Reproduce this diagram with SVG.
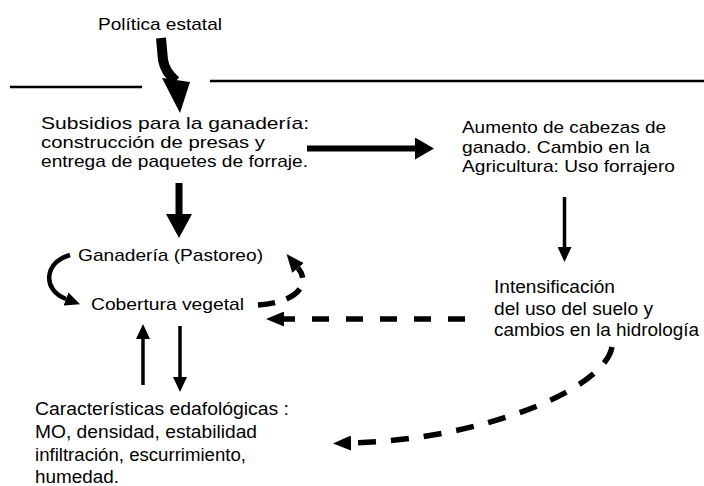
<svg xmlns="http://www.w3.org/2000/svg" width="704" height="486" viewBox="0 0 704 486">
<style>
.t{font-family:"Liberation Sans",Arial,sans-serif;font-size:17px;fill:#000}
.big{font-size:17.5px}
.rule{stroke:#000;stroke-width:2.5;fill:none}
.solid{stroke:#000;fill:none}
.dash{stroke:#000;fill:none;stroke-width:5.5}
</style>
<defs>
<marker id="hThin" markerUnits="userSpaceOnUse" markerWidth="15" markerHeight="14" refX="0" refY="7" orient="auto"><path d="M0,0L15,7L0,14z"/></marker>
<marker id="hDash" markerUnits="userSpaceOnUse" markerWidth="18" markerHeight="15" refX="0" refY="7.5" orient="auto"><path d="M0,0L18,7.5L0,15z"/></marker>
<marker id="hMed" markerUnits="userSpaceOnUse" markerWidth="19" markerHeight="22" refX="0" refY="11" orient="auto"><path d="M0,0L19,11L0,22z"/></marker>
<marker id="hBig" markerUnits="userSpaceOnUse" markerWidth="24" markerHeight="26" refX="0" refY="13" orient="auto"><path d="M0,0L24,13L0,26z"/></marker>
</defs>
<rect width="704" height="486" fill="#fff"/>
<g id="rules">
<line class="rule" x1="10" y1="87" x2="142" y2="87"/>
<line class="rule" x1="210" y1="81" x2="704" y2="81"/>
</g>
<g id="connectors">
<path class="solid" stroke-width="10" d="M161,38L163,60Q165,72 176,81"/>
<polygon points="162,78 190,82 180,113"/>
<line class="solid" stroke-width="6" x1="307" y1="148.5" x2="415" y2="148.5" marker-end="url(#hMed)"/>
<line class="solid" stroke-width="7" x1="179" y1="183" x2="179" y2="214" marker-end="url(#hBig)"/>
<line class="solid" stroke-width="3.5" x1="564.5" y1="197" x2="564.5" y2="247" marker-end="url(#hThin)"/>
<line class="dash" stroke-dasharray="17 17" x1="465" y1="319" x2="284" y2="319" marker-end="url(#hDash)"/>
<path class="dash" stroke-width="5" stroke-dasharray="17 12" d="M258,305C295,303 312,285 298,268" marker-end="url(#hDash)"/>
<path class="solid" stroke-width="4.5" d="M70,255C44,262 42,290 66,299" marker-end="url(#hThin)"/>
<line class="solid" stroke-width="3.5" x1="143" y1="385" x2="143" y2="339" marker-end="url(#hThin)"/>
<line class="solid" stroke-width="3.5" x1="180" y1="326" x2="180" y2="377" marker-end="url(#hThin)"/>
<path class="dash" stroke-dasharray="18 15" d="M612,347C604,390 480,440 351,443" marker-end="url(#hDash)"/>
</g>
<g id="politica"><text class="t" x="98" y="30" textLength="124" lengthAdjust="spacingAndGlyphs">Política estatal</text></g>
<g id="subsidios">
<text class="t" x="41" y="129" textLength="268" lengthAdjust="spacingAndGlyphs">Subsidios para la ganadería:</text>
<text class="t" x="41" y="148" textLength="224" lengthAdjust="spacingAndGlyphs">construcción de presas y</text>
<text class="t" x="41" y="167" textLength="267" lengthAdjust="spacingAndGlyphs">entrega de paquetes de forraje.</text>
</g>
<g id="aumento">
<text class="t" x="462" y="133" textLength="204" lengthAdjust="spacingAndGlyphs">Aumento de cabezas de</text>
<text class="t" x="462" y="152.5" textLength="188" lengthAdjust="spacingAndGlyphs">ganado. Cambio en la</text>
<text class="t" x="462" y="172" textLength="213" lengthAdjust="spacingAndGlyphs">Agricultura: Uso forrajero</text>
</g>
<g id="intensificacion">
<text class="t big" x="494" y="293" textLength="121" lengthAdjust="spacingAndGlyphs">Intensificación</text>
<text class="t big" x="494" y="314.5" textLength="159" lengthAdjust="spacingAndGlyphs">del uso del suelo y</text>
<text class="t big" x="494" y="336" textLength="205" lengthAdjust="spacingAndGlyphs">cambios en la hidrología</text>
</g>
<g id="ganaderia"><text class="t" x="78" y="261" textLength="185" lengthAdjust="spacingAndGlyphs">Ganadería (Pastoreo)</text></g>
<g id="cobertura"><text class="t" x="91" y="310" textLength="153" lengthAdjust="spacingAndGlyphs">Cobertura vegetal</text></g>
<g id="caracteristicas">
<text class="t big" x="35" y="415" textLength="254" lengthAdjust="spacingAndGlyphs">Características edafológicas :</text>
<text class="t big" x="35" y="438" textLength="222" lengthAdjust="spacingAndGlyphs">MO, densidad, estabilidad</text>
<text class="t big" x="35" y="460.5" textLength="211" lengthAdjust="spacingAndGlyphs">infiltración, escurrimiento,</text>
<text class="t big" x="35" y="483" textLength="84" lengthAdjust="spacingAndGlyphs">humedad.</text>
</g>
</svg>
